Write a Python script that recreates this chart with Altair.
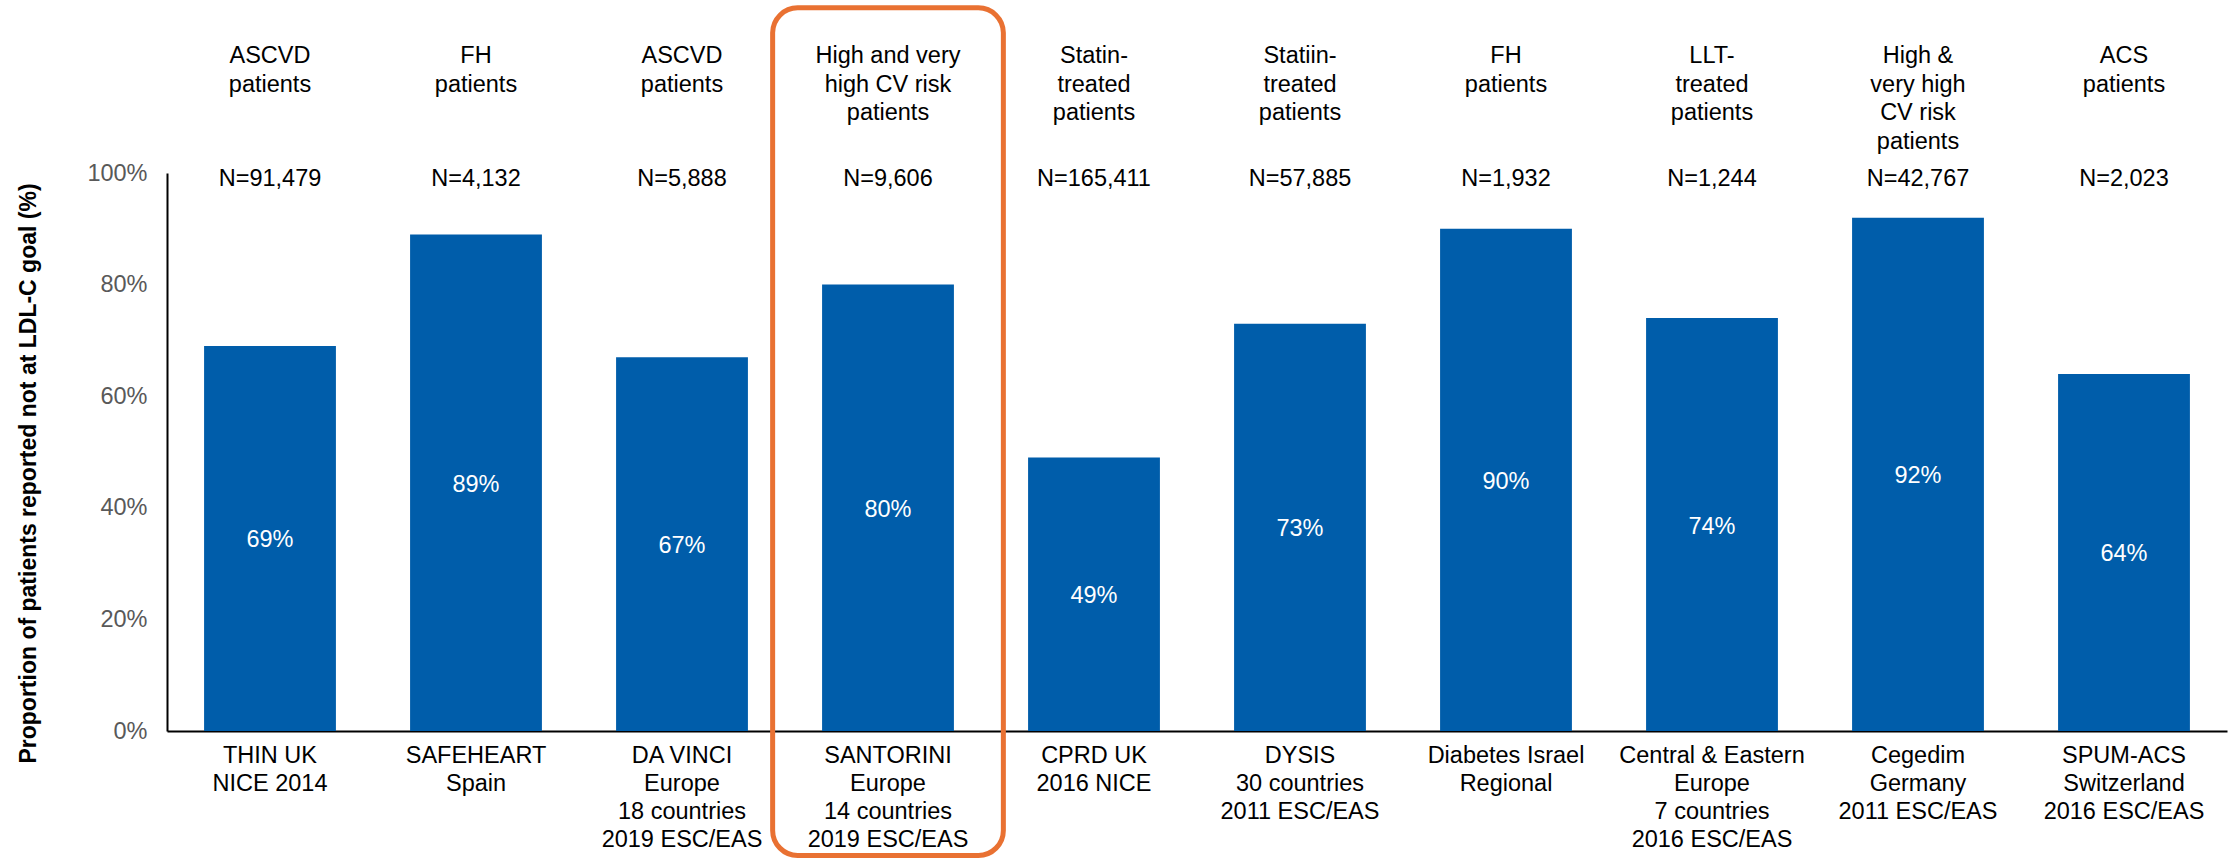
import altair as alt
import pandas as pd

# ---- data ----
groups = [
    "ASCVD|patients",
    "FH|patients",
    "ASCVD|patients",
    "High and very|high CV risk|patients",
    "Statin-|treated|patients",
    "Statiin-|treated|patients",
    "FH|patients",
    "LLT-|treated|patients",
    "High &|very high|CV risk|patients",
    "ACS|patients",
]
n_labels = ["N=91,479", "N=4,132", "N=5,888", "N=9,606", "N=165,411",
            "N=57,885", "N=1,932", "N=1,244", "N=42,767", "N=2,023"]
studies = [
    "THIN UK|NICE 2014",
    "SAFEHEART|Spain",
    "DA VINCI|Europe|18 countries|2019 ESC/EAS",
    "SANTORINI|Europe|14 countries|2019 ESC/EAS",
    "CPRD UK|2016 NICE",
    "DYSIS|30 countries|2011 ESC/EAS",
    "Diabetes Israel|Regional",
    "Central & Eastern|Europe|7 countries|2016 ESC/EAS",
    "Cegedim|Germany|2011 ESC/EAS",
    "SPUM-ACS|Switzerland|2016 ESC/EAS",
]
values = [69, 89, 67, 80, 49, 73, 90, 74, 92, 64]
highlight = "SANTORINI|Europe|14 countries|2019 ESC/EAS"
y_ticks = [0, 20, 40, 60, 80, 100]

df = pd.DataFrame({"study": studies, "group": groups, "n": n_labels, "value": values})
df["half"] = df["value"] / 2
df["pct"] = df["value"].astype(str) + "%"
df["top"] = 100

FONT = "Liberation Sans"
FS = 23.5
BLUE = "#005DAA"
ORANGE = "#E97132"

yscale = alt.Scale(domain=[0, 100], nice=False, zero=True)
xplain = alt.X("study:N", sort=studies, scale=alt.Scale(paddingInner=0, paddingOuter=0))

base = alt.Chart(df)

bars = base.mark_bar(color=BLUE, width={"band": 0.64}).encode(
    x=alt.X(
        "study:N", sort=studies,
        scale=alt.Scale(paddingInner=0, paddingOuter=0),
        axis=alt.Axis(
            title=None, labelExpr="split(datum.label, '|')", labelAngle=0,
            labelFontSize=FS, labelFont=FONT, labelColor="black",
            labelLineHeight=28, labelPadding=12, labelLimit=400,
            ticks=False, domainColor="black", domainWidth=2,
        ),
    ),
    y=alt.Y(
        "value:Q", scale=yscale,
        axis=alt.Axis(
            title="Proportion of patients reported not at LDL-C goal (%)",
            titleFont=FONT, titleFontSize=23, titleFontWeight="bold", titleColor="black",
            titleX=-139, titleY=300, titleBaseline="middle", titleAngle=270,
            values=y_ticks, labelExpr="datum.value + '%'",
            labelFont=FONT, labelFontSize=FS, labelColor="#595959", labelPadding=20,
            ticks=False, grid=False, domainColor="black", domainWidth=2,
        ),
    ),
)

vals = base.mark_text(color="white", font=FONT, fontSize=FS, baseline="middle", dy=2).encode(
    x=xplain, y=alt.Y("half:Q", scale=yscale), text="pct:N"
)

ns = base.mark_text(color="black", font=FONT, fontSize=FS, baseline="middle", dy=6).encode(
    x=xplain, y=alt.Y("top:Q", scale=yscale), text="n:N"
)

grp = base.mark_text(color="black", font=FONT, fontSize=FS, baseline="top",
                     lineBreak="|", lineHeight=28.5, dy=-129).encode(
    x=xplain, y=alt.Y("top:Q", scale=yscale), text="group:N"
)

box = alt.Chart(df[df["study"] == highlight]).mark_bar(
    filled=False, stroke=ORANGE, strokeWidth=5, cornerRadius=25, width={"band": 1.12}
).encode(
    x=xplain, y=alt.datum(129.6), y2=alt.datum(-22.3)
)

chart = alt.layer(bars, vals, ns, grp, box).properties(
    width=2060, height=558,
    autosize=alt.AutoSizeParams(type="none"),
    padding={"left": 167, "top": 173, "right": 5, "bottom": 129},
    background="white",
).configure_view(stroke=None)

chart.save("out.html", embed_options={"renderer": "svg", "actions": False})
